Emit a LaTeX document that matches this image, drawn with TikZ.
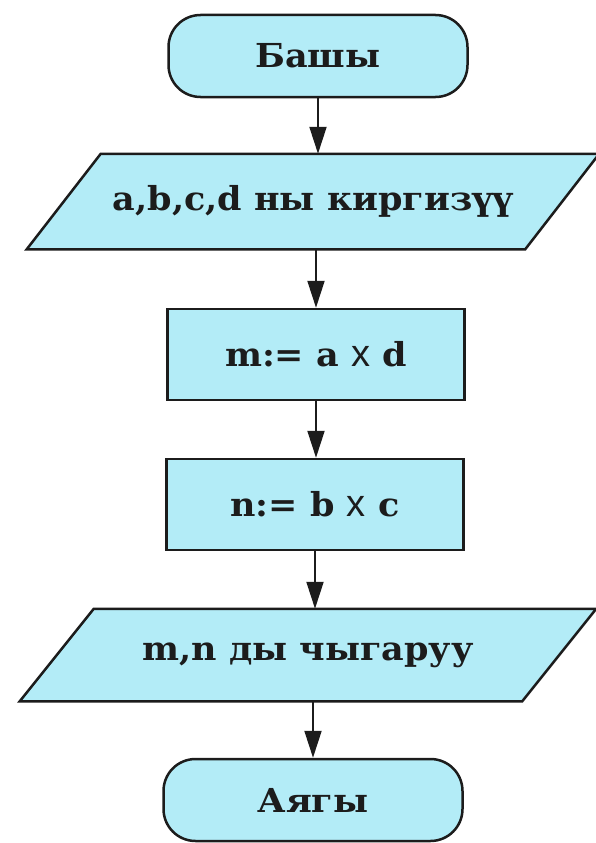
\documentclass[tikz,border=0pt]{standalone}
\usepackage{fontspec}
\setmainfont{DejaVu Serif}[FakeStretch=1.06]
\newfontfamily\xfont{Liberation Sans}
\usetikzlibrary{arrows.meta,backgrounds}
\definecolor{boxfill}{HTML}{B3ECF7}
\definecolor{ink}{HTML}{1C1C1C}
\tikzset{
 base/.style={draw=ink, line width=2.5pt, fill=boxfill, font=\fontsize{33}{39}\selectfont\bfseries, text=ink, inner sep=0pt},
 term/.style={base, rounded corners=32pt, minimum width=299pt, minimum height=82pt},
 proc/.style={base, minimum width=297pt, minimum height=91pt},
 iotext/.style={base, draw=none, fill=none, minimum width=496pt, minimum height=93pt},
 ioshape/.style={draw=ink, line width=2.5pt, fill=boxfill, line join=miter},
 arr/.style={draw=ink, line width=2pt, -{Triangle[length=27pt,width=17pt]}}
}
\newcommand{\timesx}{{\xfont\mdseries\fontsize{38}{40}\selectfont x}}
\begin{document}
\begin{tikzpicture}[x=1pt,y=-1pt]
\useasboundingbox (0,0) rectangle (596,843);
\node[term] (start) at (318,56) {Башы};
\node[iotext] (in) at (313,201.5) {a,b,c,d ны киргизүү};
\node[proc] (m) at (316,354.5) {m:=~a \timesx{} d};
\node[proc] (n) at (315,504.5) {n:=~b \timesx{} c};
\node[iotext, minimum width=500pt, minimum height=90pt] (out) at (308,655) {m,n ды чыгаруу};
\node[term] (end) at (313,800) {Аягы};
\begin{scope}[on background layer]
\draw[ioshape] ([xshift=-37pt]in.south west) -- ([xshift=37pt]in.north west) -- ([xshift=37pt]in.north east) -- ([xshift=-37pt]in.south east) -- cycle;
\draw[ioshape] ([xshift=-37pt]out.south west) -- ([xshift=37pt]out.north west) -- ([xshift=37pt]out.north east) -- ([xshift=-37pt]out.south east) -- cycle;
\end{scope}
\draw[arr] (start.south) -- (start.south |- in.north);
\draw[arr] (m.north |- in.south) -- (m.north);
\draw[arr] (m.south) -- (m.south |- n.north);
\draw[arr] (n.south) -- (n.south |- out.north);
\draw[arr] (end.north |- out.south) -- (end.north);
\end{tikzpicture}
\end{document}
